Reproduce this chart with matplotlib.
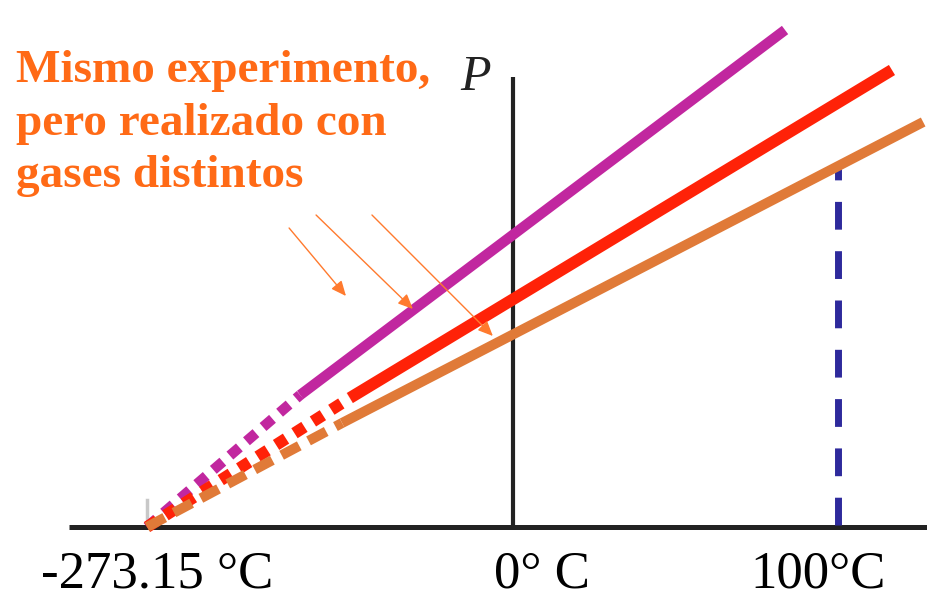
import numpy as np
import matplotlib
matplotlib.use("Agg")
import matplotlib.pyplot as plt

# ---------------------------------------------------------------------------
# DATOS (eje T esquematico: 0 C -> 0, 100 C -> 100, cero absoluto no a escala)
# ---------------------------------------------------------------------------
T_cero_abs = -112.6          # posicion dibujada de -273.15 C
ticks_T = [-112.6, 0, 100]
ticks_etiq = ['-273.15 °C', '0° C', '100°C']

gases = ['gas A', 'gas B', 'gas C']
colores = ['#c1279f', '#ff2208', '#e07a38']
# tramo medido (linea continua)
T_ini = [-65.5, -50.2, -52.6]
P_ini = [132, 129, 104]
T_fin = [83.7, 116.6, 126.2]
P_fin = [497, 457, 405]
# estilo del tramo extrapolado
grosor = [7.5, 8.5, 7.2]
trazos = [(1.2, 0.9), (1.0, 0.85), (2.0, 1.05)]

P_100 = 358   # donde la linea azul toca al gas C

texto = ['Mismo experimento,', 'pero realizado con', 'gases distintos']

# flechas (cola, punta) en coordenadas de datos
flechas = [((-68.9, 299), (-51.4, 231)),
           ((-60.6, 312), (-30.8, 218)),
           ((-43.4, 312), (-6.2, 191))]

naranja = '#ff6a16'

#----------------------------------------------------------------------------
fig = plt.figure(figsize=(9.27, 6.0), dpi=100)
ax = fig.add_axes([0, 0, 1, 1])
ax.set_xlim(-157.85, 127.38)
ax.set_ylim(-73, 527)
ax.axis('off')

# ejes dibujados a mano
ax.plot([-136.6, 127.38], [0, 0], color='#222222', lw=3.6, solid_capstyle='butt', zorder=2)
ax.plot([0, 0], [0, 450], color='#222222', lw=3.0, solid_capstyle='butt', zorder=2)
ax.plot([T_cero_abs, T_cero_abs], [7, 27], color='#c8c8c8', lw=2.5, zorder=1)

# linea azul a 100 C
ax.plot([100, 100], [2, P_100], color='#2e2a9c', lw=5, dashes=(4.0, 3.1),
        dash_capstyle='butt', zorder=3)

for i in [2, 1, 0]:
    ax.plot([T_cero_abs, T_ini[i]], [0, P_ini[i]], color=colores[i], lw=grosor[i],
            dashes=trazos[i], dash_capstyle='butt', zorder=4 + i)
    ax.plot([T_ini[i], T_fin[i]], [P_ini[i], P_fin[i]], color=colores[i], lw=grosor[i],
            solid_capstyle='butt', zorder=4 + i)

for cola, punta in flechas:
    ax.annotate('', xy=punta, xytext=cola,
                arrowprops=dict(arrowstyle='-|>,head_length=0.9,head_width=0.4',
                                color='#ff7a2e', lw=1.0, shrinkA=0, shrinkB=0),
                zorder=10)

# texto naranja
ys = [445, 392, 340]
for t, y in zip(texto, ys):
    ax.text(-153.0, y, t, color=naranja, fontsize=34, fontweight='bold',
            family='Liberation Serif', ha='left', va='baseline', zorder=11)

ax.text(-11.5, 437, 'P', fontsize=36, style='italic', family='Liberation Serif',
        color='#222222', ha='center', va='baseline')

# etiquetas del eje T
dx = [3, 9, -6]
for x, lab, d in zip(ticks_T, ticks_etiq, dx):
    ax.text(x + d, -61, lab, fontsize=38, family='Liberation Serif', color='black',
            ha='center', va='baseline')

fig.savefig('out.png', dpi=100, facecolor='white')
